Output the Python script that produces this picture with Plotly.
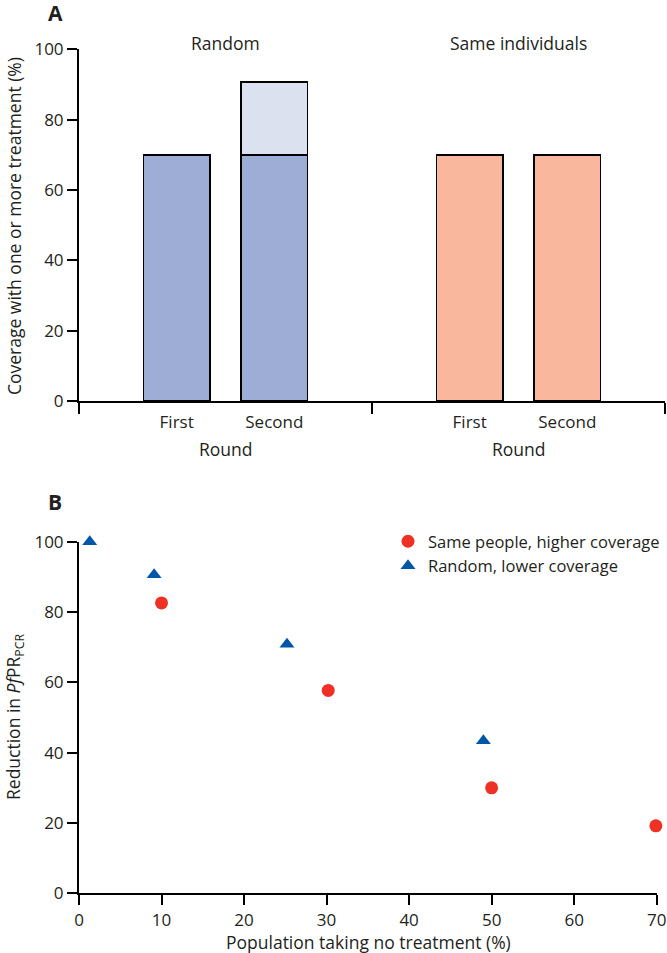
import plotly.graph_objects as go

# ---- Data ----
groups = ["Random", "Same individuals"]
rounds = ["First", "Second"]
coverage_base = {"Random": [70, 70], "Same individuals": [70, 70]}
coverage_extra = {"Random": [0, 20.7], "Same individuals": [0, 0]}

pop_no_treat_same = [10, 30.2, 50, 69.9]
reduction_same = [82.6, 57.7, 30.0, 19.2]
pop_no_treat_random = [1.3, 9.1, 25.2, 49.0]
reduction_random = [100, 90.6, 70.8, 43.4]

W, H = 667, 953
FONT = "Open Sans"
TXT = "#231f20"
FS = 17.5
TFS = 17

base_colors = {"Random": "#9dadd5", "Same individuals": "#f9b89d"}
extra_color = "#dce1f0"

def px_x(p):
    return p / W

def px_y(p):
    return 1 - p / H

fig = go.Figure()

# positions derived from category indices (3 slots per group)
slot = 3
xs, base_y, extra_y, cols, labels = [], [], [], [], []
for gi, g in enumerate(groups):
    for ri, r in enumerate(rounds):
        xs.append(gi * slot + ri + 1)
        base_y.append(coverage_base[g][ri])
        extra_y.append(coverage_extra[g][ri])
        cols.append(base_colors[g])
        labels.append(r)

fig.add_trace(go.Bar(x=xs, y=base_y, width=0.68, marker=dict(color=cols, line=dict(color="#000", width=1.5)),
                     xaxis="x", yaxis="y", showlegend=False, hoverinfo="skip"))
ex_x = [x for x, e in zip(xs, extra_y) if e > 0]
ex_y = [e for e in extra_y if e > 0]
fig.add_trace(go.Bar(x=ex_x, y=ex_y, width=0.68, marker=dict(color=extra_color, line=dict(color="#000", width=1.5)),
                     xaxis="x", yaxis="y", showlegend=False, hoverinfo="skip"))

fig.add_trace(go.Scatter(x=pop_no_treat_same, y=reduction_same, mode="markers", name="Same people, higher coverage",
                         marker=dict(symbol="circle", size=13, color="#ee3124"), xaxis="x2", yaxis="y2", cliponaxis=False))
fig.add_trace(go.Scatter(x=pop_no_treat_random, y=reduction_random, mode="markers", name="Random, lower coverage",
                         marker=dict(symbol="triangle-up", size=13, color="#0057a8"), xaxis="x2", yaxis="y2", cliponaxis=False))

axis_common = dict(showgrid=False, zeroline=False, showline=True, linecolor="#000", linewidth=2, automargin=False,
                   tickcolor="#000", tickwidth=2, tickfont=dict(family=FONT, size=TFS, color=TXT))

fig.update_layout(
    width=W, height=H, margin=dict(l=0, r=0, t=0, b=0, autoexpand=False),
    paper_bgcolor="white", plot_bgcolor="white",
    barmode="stack", font=dict(family=FONT, color=TXT),
    xaxis=dict(domain=[px_x(79), px_x(665)], range=[0, slot * len(groups)], anchor="y",
               tickmode="array", tickvals=xs, ticktext=labels, ticks="", ticklabelstandoff=5,
               minor=dict(tickmode="array", tickvals=[gi * slot for gi in range(len(groups) + 1)],
                          ticks="outside", ticklen=11, tickwidth=2, tickcolor="#000"),
               **axis_common),
    yaxis=dict(domain=[px_y(401), px_y(49.3)], range=[0, 100], anchor="x",
               tickvals=[0, 20, 40, 60, 80, 100], ticks="outside", ticklen=10, **axis_common),
    xaxis2=dict(domain=[px_x(79), px_x(656.7)], range=[0, 70], anchor="y2",
                tickvals=list(range(0, 71, 10)), ticks="outside", ticklen=10, **axis_common),
    yaxis2=dict(domain=[px_y(893.3), px_y(541.7)], range=[0, 100], anchor="x2",
                tickvals=[0, 20, 40, 60, 80, 100], ticks="outside", ticklen=10, **axis_common),
    legend=dict(x=px_x(388), y=px_y(524), xanchor="left", yanchor="top", bgcolor="rgba(0,0,0,0)",
                traceorder="normal", font=dict(family=FONT, size=16.5, color=TXT), itemwidth=30),
)

def A(text, x, y, size=FS, angle=0, xref="paper"):
    return dict(text=text, x=x, y=y, xref=xref, yref="paper", showarrow=False, textangle=angle,
                xanchor="center", yanchor="middle", font=dict(family=FONT, size=size, color=TXT))

ann = [A("<b>A</b>", px_x(55), px_y(13), size=21), A("<b>B</b>", px_x(55), px_y(502), size=21)]
for gi, g in enumerate(groups):
    cx = gi * slot + slot / 2
    ann.append(A(g, cx, px_y(43), xref="x"))
    ann.append(A("Round", cx, px_y(449), xref="x"))
ann.append(A("Coverage with one or more treatment (%)", px_x(14), px_y(226), angle=-90))
ann.append(A("Reduction in <i>Pf</i>PR<sub>PCR</sub>", px_x(14), px_y(717), angle=-90))
ann.append(A("Population taking no treatment (%)", px_x(368), px_y(942)))
fig.update_layout(annotations=ann)

fig.write_html("out.html", config={"displayModeBar": False},
               post_script="document.body.style.margin='0px';")
